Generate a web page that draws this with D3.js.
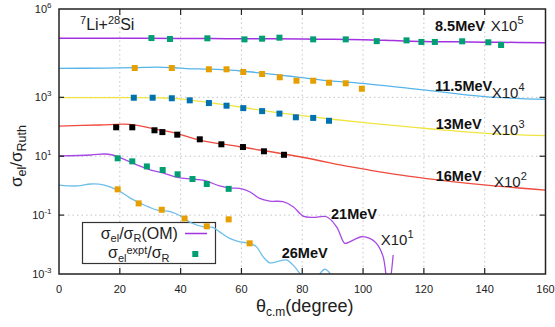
<!DOCTYPE html>
<html>
<head>
<meta charset="utf-8">
<script src="https://cdn.jsdelivr.net/npm/d3@7"></script>
<style>
  body { margin: 0; background: #fff; }
  svg { font-family: 'Liberation Sans', Arial, sans-serif; }
</style>
</head>
<body>
<div id="chart"></div>
<script>
const energies = ['8.5MeV', '11.5MeV', '13MeV', '16MeV', '21MeV', '26MeV'];
const scaleExp = [5, 4, 3, 2, 1, 0];
const xTicks = [0, 20, 40, 60, 80, 100, 120, 140, 160];
const yTickExp = [-3, -1, 1, 3, 6];
const yGridExp = [-1, 1, 3];

// optical model curves, [theta_cm, sigma/sigmaR] before the X10^n shift
const om85 = [[0, 1.01], [20, 1.01], [40, 1.0], [55, 0.98], [70, 0.97], [85, 0.94], [100, 0.91], [110, 0.85], [120, 0.79], [130, 0.77], [145, 0.74], [160, 0.72]];
const om115 = [[0, 0.97], [15, 0.98], [25, 1.02], [32, 1.06], [38, 1.01], [42, 0.95], [49.3, 0.91], [55, 0.85], [60.6, 0.77], [72.6, 0.57], [79.2, 0.48], [89, 0.36], [99.6, 0.30], [120, 0.178], [140, 0.105], [160, 0.086]];
const om13 = [[0, 0.98], [25, 0.98], [35, 0.95], [40, 0.89], [45, 0.76], [50, 0.65], [60, 0.46], [70, 0.32], [80, 0.24], [90, 0.18], [102, 0.132], [120, 0.089], [140.6, 0.06], [160, 0.05]];
const om16 = [[0, 1.06], [13.3, 1.15], [23.2, 1.21], [32, 0.82], [38.6, 0.6], [46.3, 0.355], [59.4, 0.21], [79.2, 0.096], [95.6, 0.044], [102, 0.034], [120.3, 0.0178], [140.6, 0.0105], [160, 0.0071]];
const om21 = [[0, 1.02], [10.5, 1.10], [14.9, 1.19], [17.6, 1.10], [21.5, 0.785], [25.8, 0.50], [30.2, 0.34], [34.6, 0.263], [39, 0.192], [43.4, 0.168], [47.8, 0.15], [52.8, 0.098], [56.1, 0.083], [59.4, 0.081], [62.7, 0.062], [66, 0.037], [69.3, 0.030], [73.7, 0.0285], [77, 0.0193], [80.3, 0.0093], [83.6, 0.0084], [88, 0.0088], [91.3, 0.0040], [94, 0.0011], [95.6, 0.00124], [99.5, 0.00184], [102.2, 0.00162], [104.4, 0.0011], [106.6, 0.00039], [108.3, 0.00003], [109.9, 0.00044]];
const om26 = [[0, 1.05], [6.1, 0.98], [10.5, 1.14], [14.9, 1.05], [19.3, 0.71], [23.6, 0.37], [28, 0.22], [32.4, 0.148], [36.8, 0.13], [40.1, 0.093], [43.4, 0.055], [47.8, 0.040], [50.6, 0.0385], [52.8, 0.027], [56.1, 0.0162], [59.4, 0.0124], [62.7, 0.011], [64.9, 0.0085], [67.1, 0.0039], [69.3, 0.0024], [71.5, 0.0026], [74.8, 0.0030], [77, 0.0020], [79.2, 0.00105], [82.5, 0.0004], [87.5, 0.00145], [91.4, 0.0004], [94, 0.0001]];

// measured points
const ex85 = [[30.4, 1.03], [36.5, 0.96], [48.8, 1.01], [61, 0.93], [66.8, 0.98], [72.5, 1.06], [83.6, 0.93], [94.3, 0.93], [104.5, 0.81], [114.3, 0.86], [119.2, 0.76], [123.6, 0.76], [132.6, 0.80], [141.2, 0.74], [145.4, 0.60]];
const ex115 = [[24.9, 0.99], [37.1, 0.99], [49.3, 0.895], [55.1, 0.895], [60.6, 0.725], [66.8, 0.62], [72.6, 0.48], [78.1, 0.367], [83.6, 0.367], [88.8, 0.314], [94.3, 0.30], [99.6, 0.196]];
const ex13 = [[24.6, 0.97], [30.8, 0.97], [37.1, 0.93], [43, 0.79], [49.3, 0.64], [55.1, 0.52], [60.6, 0.43], [66.8, 0.34], [72.5, 0.28], [77.9, 0.21], [83.6, 0.20], [88.8, 0.16]];
const ex16 = [[18.8, 0.96], [24.1, 0.96], [31.4, 0.76], [34, 0.66], [38.9, 0.54], [46.3, 0.375], [53.4, 0.254], [60.5, 0.205], [67.4, 0.147], [74, 0.112]];
const ex21 = [[19.3, 0.85], [24.1, 0.67], [28.9, 0.45], [34.1, 0.34], [39, 0.243], [43.9, 0.168], [48.6, 0.114], [55.8, 0.078]];
const ex26 = [[19.3, 0.75], [26.2, 0.25], [33.8, 0.152], [41.3, 0.0766], [48.6, 0.0417], [55.8, 0.0718], [62.7, 0.011]];

const curves = [om85, om115, om13, om16, om21, om26];
const points = [ex85, ex115, ex13, ex16, ex21, ex26];
const lineColors = ['#a232e0', '#56b4e9', '#f0e442', '#ee4a3e', '#a848e4', '#6cbeec'];
const markColors = ['#009e73', '#e69f00', '#0072b2', '#000000', '#009e73', '#e69f00'];

const width = 555;
const height = 327;
const mLeft = 59, mRight = 545.5, mTop = 9, mBottom = 274;

const svg = d3.select('#chart').append('svg').attr('width', width).attr('height', height);

const x = d3.scaleLinear().domain([0, 160]).range([mLeft, mRight]);
const y = d3.scaleLog().domain([1e-3, 1e6]).range([mBottom, mTop]);

svg.append('defs').append('clipPath').attr('id', 'plot')
  .append('rect').attr('x', mLeft).attr('y', mTop).attr('width', mRight - mLeft).attr('height', mBottom - mTop);

// grid
const grid = svg.append('g').attr('stroke', '#c4c4c4').attr('stroke-width', 1).attr('stroke-dasharray', '1.5,3');
grid.selectAll('.vgrid').data(xTicks.slice(1, -1)).enter().append('line')
  .attr('x1', d => x(d)).attr('x2', d => x(d)).attr('y1', mTop).attr('y2', mBottom);
grid.selectAll('.hgrid').data(yGridExp).enter().append('line')
  .attr('x1', mLeft).attr('x2', mRight).attr('y1', d => y(Math.pow(10, d))).attr('y2', d => y(Math.pow(10, d)));

// legend box sits under the curves
const legend = svg.append('g');
legend.append('rect').attr('x', 82.5).attr('y', 222.5).attr('width', 133).attr('height', 41)
  .attr('fill', '#fff').attr('stroke', '#333').attr('stroke-width', 1.2);

const line = d3.line()
  .x(d => x(d[0]))
  .y(d => y(d[1]))
  .curve(d3.curveCatmullRom.alpha(0.5));

const plot = svg.append('g').attr('clip-path', 'url(#plot)');
curves.forEach((c, i) => {
  const k = Math.pow(10, scaleExp[i]);
  plot.append('path')
    .datum(c.map(p => [p[0], p[1] * k]))
    .attr('d', line)
    .attr('fill', 'none')
    .attr('stroke', lineColors[i])
    .attr('stroke-width', i === 0 ? 1.5 : 1.3);
});

const ms = 6;
points.forEach((pts, i) => {
  const k = Math.pow(10, scaleExp[i]);
  plot.selectAll('.m' + i).data(pts).enter().append('rect')
    .attr('x', d => x(d[0]) - ms / 2)
    .attr('y', d => y(d[1] * k) - ms / 2)
    .attr('width', ms).attr('height', ms)
    .attr('fill', markColors[i]);
});

// frame and ticks
svg.append('rect').attr('x', mLeft).attr('y', mTop).attr('width', mRight - mLeft).attr('height', mBottom - mTop)
  .attr('fill', 'none').attr('stroke', '#222').attr('stroke-width', 1.5);

const ticks = svg.append('g').attr('stroke', '#222').attr('stroke-width', 1.2);
xTicks.slice(1, -1).forEach(t => {
  ticks.append('line').attr('x1', x(t)).attr('x2', x(t)).attr('y1', mBottom).attr('y2', mBottom - 6);
  ticks.append('line').attr('x1', x(t)).attr('x2', x(t)).attr('y1', mTop).attr('y2', mTop + 6);
});
yTickExp.slice(1, -1).forEach(e => {
  const yy = y(Math.pow(10, e));
  ticks.append('line').attr('x1', mLeft).attr('x2', mLeft + 5).attr('y1', yy).attr('y2', yy);
  ticks.append('line').attr('x1', mRight).attr('x2', mRight - 6).attr('y1', yy).attr('y2', yy);
});

svg.selectAll('.xlab').data(xTicks).enter().append('text')
  .attr('x', d => x(d)).attr('y', 292.5)
  .attr('text-anchor', 'middle').attr('font-size', 11).attr('fill', '#222')
  .text(d => d);

yTickExp.forEach(e => {
  const t = svg.append('text')
    .attr('x', 51.5).attr('y', y(Math.pow(10, e)) + 4)
    .attr('text-anchor', 'end').attr('font-size', 11).attr('fill', '#222');
  t.append('tspan').text('10');
  t.append('tspan').attr('dy', -5).attr('font-size', 8).text(e);
});

// axis titles
const yt = svg.append('text')
  .attr('transform', 'translate(22,156) rotate(-90)')
  .attr('text-anchor', 'middle').attr('font-size', 17).attr('fill', '#222');
yt.append('tspan').text('σ');
yt.append('tspan').attr('dy', 4).attr('font-size', 12.5).text('el');
yt.append('tspan').attr('dy', -4).text('/σ');
yt.append('tspan').attr('dy', 4).attr('font-size', 12.5).text('Ruth');

const xt = svg.append('text').attr('x', 256).attr('y', 312).attr('font-size', 18).attr('fill', '#222');
xt.append('tspan').text('θ');
xt.append('tspan').attr('dy', 4).attr('font-size', 12).text('c.m');
xt.append('tspan').attr('dy', -4).text('(degree)');

// reaction label
const title = svg.append('text').attr('x', 80).attr('y', 29.5).attr('font-size', 16).attr('fill', '#222');
title.append('tspan').attr('dy', -6).attr('font-size', 11).text('7');
title.append('tspan').attr('dy', 6).text('Li+');
title.append('tspan').attr('dy', -6).attr('font-size', 11).text('28');
title.append('tspan').attr('dy', 6).text('Si');

// energy labels and shift factors
const labelPos = [[435, 31], [435, 90.7], [435.7, 129], [435.7, 180.7], [331, 219.3], [281.7, 258.3]];
const factorPos = [[490.7, 31], [491.7, 97.7], [491.7, 135], [494, 187.3], [380.7, 245]];
energies.forEach((e, i) => {
  svg.append('text').attr('x', labelPos[i][0]).attr('y', labelPos[i][1])
    .attr('font-size', 14.5).attr('font-weight', 'bold').attr('fill', '#111').text(e);
  if (i < factorPos.length) {
    const f = svg.append('text').attr('x', factorPos[i][0]).attr('y', factorPos[i][1])
      .attr('font-size', 15).attr('fill', '#222');
    f.append('tspan').text('X10');
    f.append('tspan').attr('dy', -7).attr('font-size', 11).text(scaleExp[i]);
  }
});

// legend entries
const l1 = legend.append('text').attr('x', 100.7).attr('y', 239).attr('font-size', 16).attr('fill', '#222');
l1.append('tspan').text('σ');
l1.append('tspan').attr('dy', 3).attr('font-size', 11).text('el');
l1.append('tspan').attr('dy', -3).text('/σ');
l1.append('tspan').attr('dy', 3).attr('font-size', 11).text('R');
l1.append('tspan').attr('dy', -3).text('(OM)');
svg.append('line').attr('x1', 185).attr('x2', 207).attr('y1', 233.5).attr('y2', 233.5)
  .attr('stroke', lineColors[0]).attr('stroke-width', 1.5);

const l2 = legend.append('text').attr('x', 108).attr('y', 258.3).attr('font-size', 16).attr('fill', '#222');
l2.append('tspan').text('σ');
l2.append('tspan').attr('dy', 4).attr('font-size', 11).text('el');
l2.append('tspan').attr('dy', -8).attr('font-size', 11).text('expt');
l2.append('tspan').attr('dy', 4).text('/σ');
l2.append('tspan').attr('dy', 4).attr('font-size', 11).text('R');
svg.append('rect').attr('x', 195.3 - ms / 2).attr('y', 254 - ms / 2).attr('width', ms).attr('height', ms)
  .attr('fill', markColors[0]);
</script>
</body>
</html>
